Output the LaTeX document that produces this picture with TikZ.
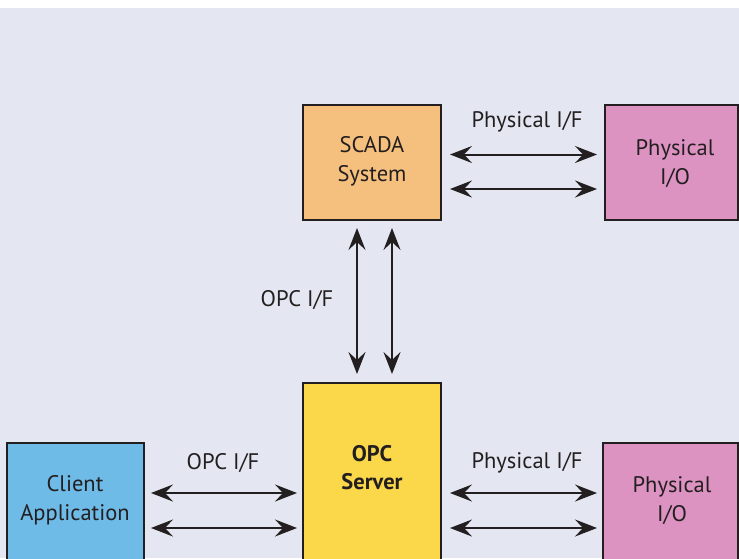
\documentclass[tikz,border=0pt]{standalone}
\usepackage{fontspec}
\setmainfont{PT Sans}
\usetikzlibrary{arrows.meta}
\definecolor{bgc}{HTML}{E4E7F1}
\definecolor{ink}{HTML}{231F20}
\definecolor{scadac}{HTML}{F5C07E}
\definecolor{physc}{HTML}{DD93C2}
\definecolor{opcc}{HTML}{FBD84A}
\definecolor{clientc}{HTML}{6EBBE8}
\tikzset{
  box/.style={draw=ink, line width=2pt, inner sep=0pt},
  txt/.style={text=ink, align=center, inner sep=0pt, font=\fontsize{22.5}{29}\selectfont},
  btxt/.style={txt, font=\fontsize{22.5}{28}\selectfont\bfseries},
  tip/.style={Stealth[length=22pt,width=17pt,inset=8pt]},
  arr/.style={draw=ink, line width=2pt, {Stealth[length=22pt,width=17pt,inset=8pt]}-{Stealth[length=22pt,width=17pt,inset=8pt]}}
}
\begin{document}
\begin{tikzpicture}[x=1pt,y=-1pt]
\useasboundingbox (0,0) rectangle (739,558);
\clip (0,0) rectangle (739,558);
\fill[bgc] (0,8) rectangle (739,558);
% boxes
\node[box, fill=scadac, minimum width=138pt, minimum height=115pt] (scada) at (372,162.5) {};
\node[box, fill=physc, minimum width=133pt, minimum height=115pt] (phys1) at (671.5,162.5) {};
\node[box, fill=opcc, minimum width=138pt, minimum height=217pt] (opc) at (372,491.5) {};
\node[box, fill=clientc, minimum width=137pt, minimum height=157pt] (client) at (75.5,521.5) {};
\node[box, fill=physc, minimum width=135pt, minimum height=157pt] (phys2) at (670.5,521.5) {};
% box texts
\node[txt] (scadat) at (372,161) {SCADA\\System};
\node[txt] (phys1t) at (675,163.5) {Physical\\I/O};
\node[btxt] (opct) at (372,468) {OPC\\Server};
\node[txt] (clientt) at (75,500) {Client\\Application};
\node[txt] (phys2t) at (672,501) {Physical\\I/O};
% labels
\node[txt] (l1) at (527,122) {Physical I/F};
\node[txt] (l2) at (297,300) {OPC I/F};
\node[txt] (l3) at (223,463) {OPC I/F};
\node[txt] (l4) at (527,463) {Physical I/F};
% arrows top right
\draw[arr] ([shift={(8,-8)}]scada.east) -- ([shift={(-7,-8)}]phys1.west);
\draw[arr] ([shift={(8,26.5)}]scada.east) -- ([shift={(-7,26.5)}]phys1.west);
% vertical arrows
\draw[arr] ([shift={(-15,7)}]scada.south) -- ([shift={(-15,-8)}]opc.north);
\draw[arr] ([shift={(20,7)}]scada.south) -- ([shift={(20,-8)}]opc.north);
% bottom left arrows
\draw[arr] ([shift={(6,-28.5)}]client.east) -- ([shift={(-5,1.5)}]opc.west);
\draw[arr] ([shift={(6,6.5)}]client.east) -- ([shift={(-5,36.5)}]opc.west);
% bottom right arrows
\draw[arr] ([shift={(8,1.5)}]opc.east) -- ([shift={(-5,-28.5)}]phys2.west);
\draw[arr] ([shift={(8,36.5)}]opc.east) -- ([shift={(-5,6.5)}]phys2.west);
\end{tikzpicture}
\end{document}
